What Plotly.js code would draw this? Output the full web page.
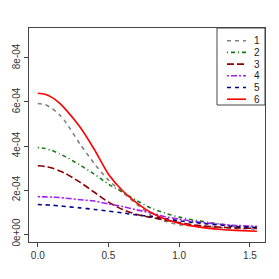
<!DOCTYPE html>
<html>
<head>
<meta charset="utf-8">
<script src="https://cdn.plot.ly/plotly-3.0.1.min.js"></script>
<style>html,body{margin:0;padding:0;background:#fff;}#chart{width:279px;height:279px;}</style>
</head>
<body>
<div id="chart"></div>
<script>
// ---- data ----
const xs = [0, 0.05, 0.1, 0.15, 0.2, 0.3, 0.4, 0.5, 0.6, 0.7, 0.8, 0.9, 1.0, 1.1, 1.2, 1.3, 1.4, 1.55];
const seriesNames = ["1", "2", "3", "4", "5", "6"];
const s1 = [5.93e-4, 5.88e-4, 5.72e-4, 5.44e-4, 5.06e-4, 4.08e-4, 3.20e-4, 2.45e-4, 1.90e-4, 1.35e-4, 0.86e-4, 0.58e-4, 0.43e-4, 0.37e-4, 0.33e-4, 0.29e-4, 0.26e-4, 0.23e-4];
const s2 = [3.93e-4, 3.89e-4, 3.80e-4, 3.66e-4, 3.50e-4, 3.13e-4, 2.72e-4, 2.27e-4, 1.90e-4, 1.52e-4, 1.18e-4, 0.95e-4, 0.77e-4, 0.64e-4, 0.54e-4, 0.45e-4, 0.37e-4, 0.30e-4];
const s3 = [3.10e-4, 3.07e-4, 3.00e-4, 2.88e-4, 2.74e-4, 2.35e-4, 1.90e-4, 1.45e-4, 1.12e-4, 0.89e-4, 0.76e-4, 0.63e-4, 0.52e-4, 0.42e-4, 0.35e-4, 0.31e-4, 0.28e-4, 0.26e-4];
const s4 = [1.70e-4, 1.69e-4, 1.68e-4, 1.66e-4, 1.63e-4, 1.56e-4, 1.50e-4, 1.37e-4, 1.25e-4, 1.10e-4, 0.96e-4, 0.79e-4, 0.68e-4, 0.58e-4, 0.50e-4, 0.44e-4, 0.39e-4, 0.35e-4];
const s5 = [1.34e-4, 1.33e-4, 1.31e-4, 1.28e-4, 1.25e-4, 1.19e-4, 1.12e-4, 1.04e-4, 0.96e-4, 0.87e-4, 0.80e-4, 0.70e-4, 0.60e-4, 0.53e-4, 0.46e-4, 0.40e-4, 0.34e-4, 0.30e-4];
const s6 = [6.40e-4, 6.35e-4, 6.21e-4, 5.97e-4, 5.64e-4, 4.85e-4, 3.84e-4, 2.72e-4, 1.97e-4, 1.42e-4, 0.98e-4, 0.68e-4, 0.49e-4, 0.36e-4, 0.27e-4, 0.21e-4, 0.17e-4, 0.13e-4];
const xTickVals = [0, 0.5, 1.0, 1.5];
const xTickText = ["0.0", "0.5", "1.0", "1.5"];
const yTickVals = [0, 2e-4, 4e-4, 6e-4, 8e-4];
const yTickText = ["0e+00", "2e-04", "4e-04", "6e-04", "8e-04"];

// ---- styles ----
const allSeries = [s1, s2, s3, s4, s5, s6];
const colors = ["#808080", "#1a7a1a", "#8B0000", "#A020F0", "#00008B", "#FF0000"];
const dashes = ["4px,4px", "1px,3px,4px,3px", "7px,3px", "2px,2px,6px,2px", "4px,4px", "solid"];
const lw = 1.6;

const traces = allSeries.map((ys, i) => ({
  x: xs, y: ys, type: "scatter", mode: "lines",
  name: seriesNames[i], showlegend: false,
  line: {color: colors[i], dash: dashes[i], width: lw, shape: "spline", smoothing: 0.7}
}));

// manual legend (R-style, compact)
const shapes = [];
const annotations = [];
const plotW = 236, plotH = 214;
const legLeft = 1 - 48 / plotW, legBottom = 1 - 77 / plotH;
shapes.push({type: "rect", xref: "paper", yref: "paper", x0: legLeft, x1: 1, y0: legBottom, y1: 1,
  line: {color: "#444", width: 1}, fillcolor: "rgba(255,255,255,0)"});
for (let i = 0; i < seriesNames.length; i++) {
  const yp = 1 - (12.7 + 11.7 * i) / plotH;
  shapes.push({type: "line", xref: "paper", yref: "paper",
    x0: 1 - 38 / plotW, x1: 1 - 19 / plotW, y0: yp, y1: yp,
    line: {color: colors[i], dash: dashes[i], width: lw}});
  annotations.push({xref: "paper", yref: "paper", x: 1 - 8 / plotW, y: yp,
    text: seriesNames[i], showarrow: false, xanchor: "center", yanchor: "middle",
    font: {family: "Liberation Sans, Arial, sans-serif", size: 10, color: "#222"}});
}

const axisCommon = {
  showgrid: false, zeroline: false, showline: true, mirror: true,
  linecolor: "#444", linewidth: 1, ticks: "outside", ticklen: 4, tickcolor: "#444",
  tickfont: {family: "Liberation Sans, Arial, sans-serif", size: 10, color: "#333"}
};

const layout = {
  width: 279, height: 279,
  margin: {l: 29, r: 14, t: 28, b: 37, pad: 0},
  paper_bgcolor: "#fff", plot_bgcolor: "#fff",
  showlegend: false,
  xaxis: Object.assign({}, axisCommon, {
    range: [-0.062, 1.607], tickmode: "array", tickvals: xTickVals, ticktext: xTickText
  }),
  yaxis: Object.assign({}, axisCommon, {
    range: [-3.6e-5, 9.36e-4], tickmode: "array", tickvals: yTickVals, ticktext: yTickText,
    tickangle: -90
  }),
  shapes: shapes,
  annotations: annotations
};

Plotly.newPlot("chart", traces, layout, {staticPlot: true, displayModeBar: false});
</script>
</body>
</html>
